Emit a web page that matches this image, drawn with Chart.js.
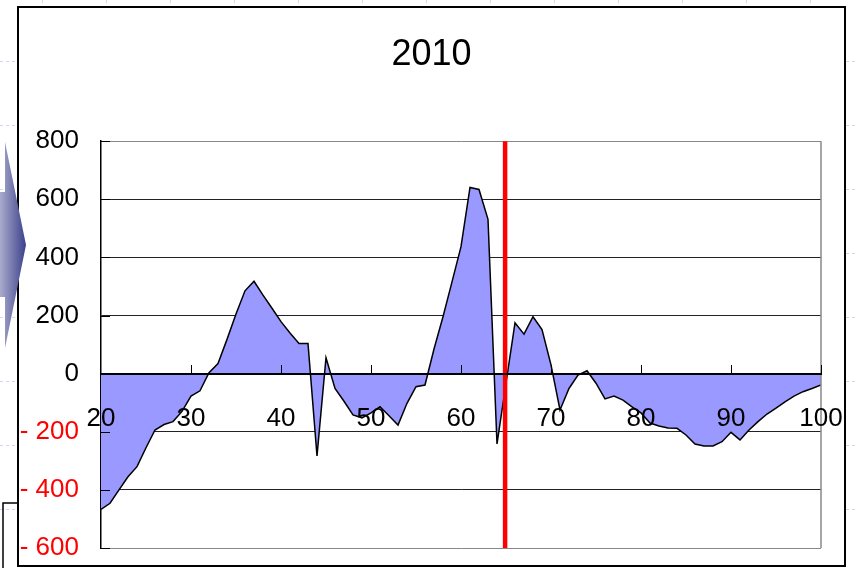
<!DOCTYPE html>
<html>
<head>
<meta charset="utf-8">
<title>2010</title>
<script src="https://cdn.jsdelivr.net/npm/chart.js@4.4.1/dist/chart.umd.min.js"></script>
<style>
    html, body { margin: 0; padding: 0; background: #fff; }
    #chart { display: block; }
</style>
</head>
<body>
<canvas id="chart" width="855" height="568"></canvas>
<script>
// Ages (x) and values for the 2010 curve
const ages = [20, 21, 22, 23, 24, 25, 26, 27, 28, 29,
              30, 31, 32, 33, 34, 35, 36, 37, 38, 39,
              40, 41, 42, 43, 44, 45, 46, 47, 48, 49,
              50, 51, 52, 53, 54, 55, 56, 57, 58, 59,
              60, 61, 62, 63, 64, 65, 66, 67, 68, 69,
              70, 71, 72, 73, 74, 75, 76, 77, 78, 79,
              80, 81, 82, 83, 84, 85, 86, 87, 88, 89,
              90, 91, 92, 93, 94, 95, 96, 97, 98, 99, 100];
const values = [-467, -446, -400, -355, -320, -255, -194, -175, -165, -130,
                -77, -59, 3, 35, 118, 205, 285, 318, 270, 225,
                179, 140, 104, 104, -283, 55, -51, -95, -142, -152,
                -135, -114, -145, -177, -102, -45, -39, 85, 196, 316,
                437, 641, 634, 531, -242, -33, 175, 136, 196, 152,
                30, -125, -51, -5, 10, -33, -87, -77, -91, -114,
                -135, -170, -180, -187, -188, -211, -242, -249, -249, -234,
                -202, -228, -194, -165, -139, -119, -97, -77, -62, -51, -39];

// Red marker line position and axis settings
const markerAge = 64.9;
const yTicks = { min: -600, max: 800, step: 200 };
const xTicks = { min: 20, max: 100, step: 10 };

const FONT = "'Liberation Sans', Arial, sans-serif";

document.addEventListener('DOMContentLoaded', function() {
    const canvas = document.getElementById('chart');

    // Page frame, faint background grid, arrow and small bracket
    const decorPlugin = {
        id: 'decor',
        beforeDraw(chart) {
            const ctx = chart.ctx;
            ctx.save();
            ctx.fillStyle = '#fff';
            ctx.fillRect(0, 0, chart.width, chart.height);

            ctx.strokeStyle = '#d2d6f2';
            ctx.lineWidth = 1;
            ctx.setLineDash([3, 3]);
            for (let x = 42; x < chart.width; x += 64) {
                ctx.beginPath();
                ctx.moveTo(x + 0.5, 0);
                ctx.lineTo(x + 0.5, chart.height);
                ctx.stroke();
            }
            for (let y = 61; y < chart.height; y += 64) {
                ctx.beginPath();
                ctx.moveTo(0, y + 0.5);
                ctx.lineTo(chart.width, y + 0.5);
                ctx.stroke();
            }
            ctx.setLineDash([]);

            ctx.fillStyle = '#fff';
            ctx.fillRect(18, 7, 827, 559);
            ctx.strokeStyle = '#000';
            ctx.lineWidth = 2;
            ctx.strokeRect(18, 7, 827, 559);
            ctx.restore();
        },
        afterDatasetsDraw(chart) {
            const ctx = chart.ctx;
            const area = chart.chartArea;
            const xs = chart.scales.x;
            const ys = chart.scales.y;
            const zeroY = Math.round(ys.getPixelForValue(0));
            ctx.save();

            // right border of the plot
            ctx.strokeStyle = '#888';
            ctx.lineWidth = 1.5;
            ctx.beginPath();
            ctx.moveTo(area.right, area.top);
            ctx.lineTo(area.right, area.bottom);
            ctx.stroke();

            // small tick marks pointing up from the zero line
            ctx.strokeStyle = '#000';
            ctx.lineWidth = 1;
            for (let v = xTicks.min + xTicks.step; v <= xTicks.max; v += xTicks.step) {
                const px = Math.round(xs.getPixelForValue(v)) + 0.5;
                ctx.beginPath();
                ctx.moveTo(px, zeroY);
                ctx.lineTo(px, zeroY - 9);
                ctx.stroke();
            }
            // inner tick marks on the left axis
            for (let v = yTicks.min; v <= yTicks.max; v += yTicks.step) {
                const py = Math.round(ys.getPixelForValue(v)) + 0.5;
                ctx.beginPath();
                ctx.moveTo(area.left, py);
                ctx.lineTo(area.left + 9, py);
                ctx.stroke();
            }
            ctx.restore();
        },
        afterDraw(chart) {
            const ctx = chart.ctx;
            ctx.save();

            // blue arrow on the left edge
            const grad = ctx.createLinearGradient(0, 0, 26, 0);
            grad.addColorStop(0, '#a9abcc');
            grad.addColorStop(1, '#3b418b');
            ctx.fillStyle = grad;
            ctx.beginPath();
            ctx.moveTo(0, 192);
            ctx.lineTo(5, 192);
            ctx.lineTo(5, 142);
            ctx.lineTo(26, 245);
            ctx.lineTo(5, 348);
            ctx.lineTo(5, 297);
            ctx.lineTo(0, 297);
            ctx.closePath();
            ctx.fill();

            // bracket at bottom left
            ctx.strokeStyle = '#000';
            ctx.lineWidth = 1.5;
            ctx.beginPath();
            ctx.moveTo(3, chart.height);
            ctx.lineTo(3, 503);
            ctx.lineTo(18, 503);
            ctx.stroke();
            ctx.restore();
        }
    };

    // labels may overhang the plot; don't let them shrink it
    function noOverhang(scale) {
        scale.paddingLeft = 0;
        scale.paddingRight = 0;
        scale.paddingTop = 0;
        scale.paddingBottom = 0;
    }

    const areaPoints = ages.map((a, i) => ({ x: a, y: values[i] }));
    const markerPoints = [{ x: markerAge, y: yTicks.max }, { x: markerAge, y: yTicks.min }];

    new Chart(canvas.getContext('2d'), {
        type: 'line',
        data: {
            datasets: [
                {
                    label: 'marker',
                    data: markerPoints,
                    borderColor: '#ff0000',
                    borderWidth: 4.5,
                    borderCapStyle: 'round',
                    pointRadius: 0,
                    fill: false,
                    order: 0
                },
                {
                    label: '2010',
                    data: areaPoints,
                    borderColor: '#000',
                    borderWidth: 1.5,
                    backgroundColor: '#9999ff',
                    fill: 'origin',
                    tension: 0,
                    pointRadius: 0,
                    order: 1
                }
            ]
        },
        options: {
            responsive: false,
            animation: false,
            layout: { padding: { left: 20, right: 12, top: 10, bottom: 20 } },
            plugins: {
                legend: { display: false },
                tooltip: { enabled: false },
                title: {
                    display: true,
                    text: '2010',
                    color: '#000',
                    font: { family: FONT, size: 36, weight: 'normal' },
                    padding: { top: 23, bottom: 65 }
                }
            },
            scales: {
                x: {
                    type: 'linear',
                    position: { y: 0 },
                    min: xTicks.min,
                    max: xTicks.max,
                    afterFit: noOverhang,
                    grid: { display: false, drawTicks: false },
                    border: { display: true, color: '#000', width: 2, z: 1 },
                    ticks: {
                        stepSize: xTicks.step,
                        color: '#000',
                        padding: 30,
                        maxRotation: 0,
                        autoSkip: false,
                        z: 1,
                        font: { family: FONT, size: 26 }
                    }
                },
                y: {
                    position: 'left',
                    min: yTicks.min,
                    max: yTicks.max,
                    afterFit: function(scale) {
                        scale.width = 81;
                        noOverhang(scale);
                    },
                    grid: {
                        drawTicks: false,
                        color: ctx => (ctx.tick && (ctx.tick.value === yTicks.max || ctx.tick.value === yTicks.min)) ? '#888' : '#222',
                        lineWidth: 1
                    },
                    border: { display: true, color: '#000', width: 1.5 },
                    ticks: {
                        stepSize: yTicks.step,
                        padding: 22,
                        font: { family: FONT, size: 26 },
                        color: ctx => (ctx.tick && ctx.tick.value < 0) ? '#ff0000' : '#000',
                        callback: v => v < 0 ? '- ' + (-v) : String(v)
                    }
                },
                // empty right-hand spacer so the title centres on the frame
                spacer: {
                    type: 'linear',
                    axis: 'y',
                    position: 'right',
                    grid: { display: false, drawTicks: false },
                    border: { display: false },
                    ticks: { display: false },
                    afterFit: function(scale) {
                        scale.width = 22;
                        noOverhang(scale);
                    }
                }
            }
        },
        plugins: [decorPlugin]
    });
});
</script>
</body>
</html>
